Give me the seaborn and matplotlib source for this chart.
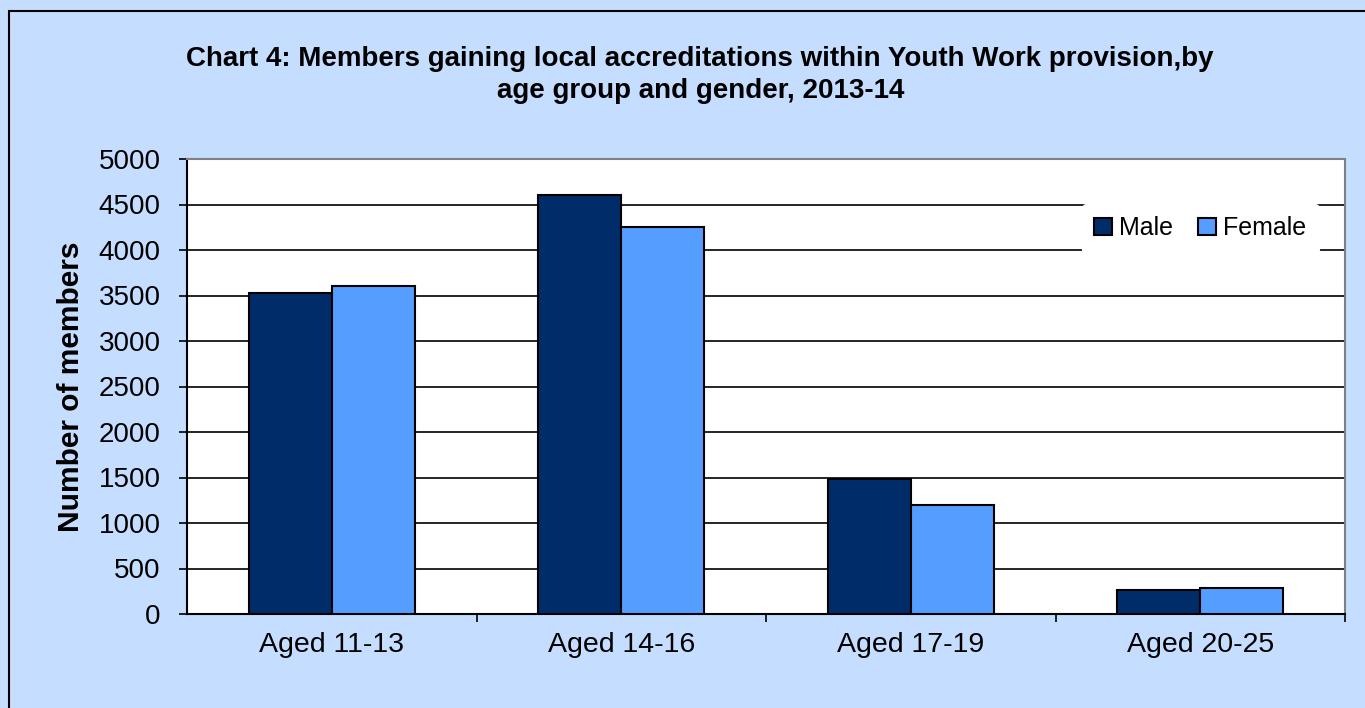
import pandas as pd
import numpy as np
import seaborn as sns
import matplotlib.pyplot as plt
from matplotlib.patches import Rectangle
from matplotlib.ticker import MultipleLocator, FixedLocator

# data
age_groups = ["Aged 11-13", "Aged 14-16", "Aged 17-19", "Aged 20-25"]
male = [3530, 4600, 1480, 265]
female = [3600, 4250, 1200, 290]

df = pd.DataFrame({
    "Age group": age_groups * 2,
    "Gender": ["Male"] * 4 + ["Female"] * 4,
    "Members": male + female,
})

sns.set_style("white")
plt.rcParams['font.family'] = ['Liberation Sans', 'DejaVu Sans']
plt.rcParams['text.color'] = 'black'
plt.rcParams['axes.labelcolor'] = 'black'
plt.rcParams['xtick.color'] = 'black'
plt.rcParams['ytick.color'] = 'black'

bg = "#C5DDFF"
fig = plt.figure(figsize=(13.65, 7.08), dpi=100, facecolor=bg)
ax = fig.add_axes([187/1365, 1-614/708, (1345-187)/1365, (614-159)/708])
ax.set_facecolor("white")

# outer chart border
fig.patches.append(Rectangle((9/1365, -0.05), 1.2, 1-11/708+0.05, transform=fig.transFigure,
                             fill=False, edgecolor="black", linewidth=1.5, zorder=0))

sns.barplot(data=df, x="Age group", y="Members", hue="Gender",
            palette={"Male": "#002D6A", "Female": "#559DFF"},
            width=0.573, gap=0, edgecolor="black", linewidth=1.5,
            saturation=1, ax=ax, zorder=3)

ax.set_ylim(0, 5000)
ax.set_xlim(-0.5, 3.5)
ax.yaxis.set_major_locator(MultipleLocator(500))
ax.grid(axis="y", color="black", linewidth=1.2, zorder=0)
ax.set_axisbelow(True)

ax.tick_params(axis="y", direction="out", length=6, width=1.2,
               labelsize=20, left=True, pad=13)
ax.tick_params(axis="x", which="major", length=0, labelsize=20.5, pad=13)
ax.xaxis.set_minor_locator(FixedLocator([0.5, 1.5, 2.5, 3.5]))
ax.tick_params(axis="x", which="minor", direction="out", length=6, width=1.2,
               bottom=True)

for s in ["left", "bottom"]:
    ax.spines[s].set_color("black")
    ax.spines[s].set_linewidth(1.5)
for s in ["top", "right"]:
    ax.spines[s].set_color("#808080")
    ax.spines[s].set_linewidth(1.5)

ax.set_xlabel("")
ax.set_ylabel("Number of members", fontsize=21.5, fontweight="bold", labelpad=10)

leg = ax.legend(loc="center", bbox_to_anchor=(0.875, 0.848), ncol=2,
                frameon=True, fontsize=18, handlelength=0.7, handleheight=0.7,
                handletextpad=0.3, columnspacing=1.0, borderpad=0.5)
leg.get_frame().set_facecolor("white")
leg.get_frame().set_edgecolor("white")
leg.get_frame().set_alpha(1)

fig.text(0.513, 1-75/708,
         "Chart 4: Members gaining local accreditations within Youth Work provision,by\nage group and gender, 2013-14",
         ha="center", va="center", fontsize=20, fontweight="bold", linespacing=1.3)

fig.savefig("out.png", dpi=100, facecolor=bg)
